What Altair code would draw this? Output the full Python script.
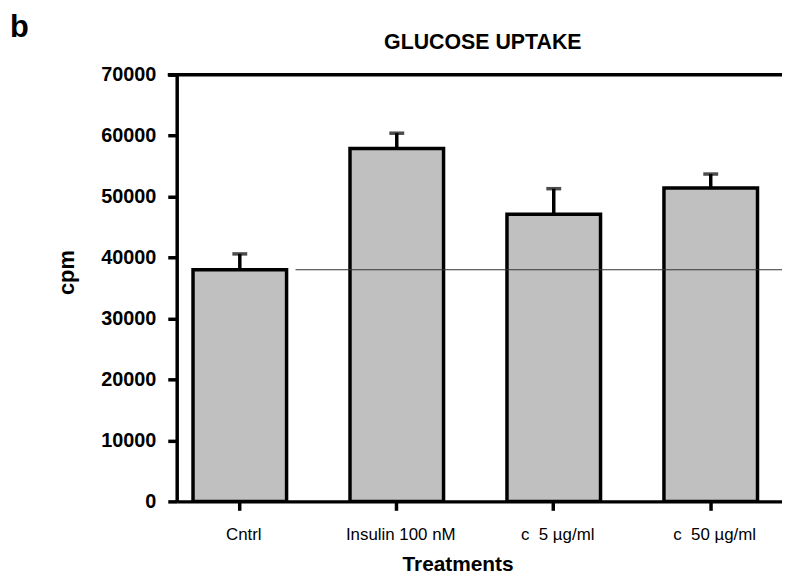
import altair as alt
import pandas as pd

treatments = ["Cntrl", "Insulin 100 nM", "c\u00a0\u00a05 µg/ml", "c\u00a0\u00a050 µg/ml"]
means = [38000, 57900, 47100, 51400]
errors = [2600, 2500, 4200, 2300]
y_ticks = [0, 10000, 20000, 30000, 40000, 50000, 60000, 70000]

df = pd.DataFrame({"treatment": treatments, "mean": means, "err": errors})
df["upper"] = df["mean"] + df["err"]

FONT = "Liberation Sans"
W, H = 610, 430

x_scale = alt.Scale(paddingInner=0.404, paddingOuter=0.13, align=0.4)
x_axis = alt.Axis(
    title="Treatments", labelFont=FONT, labelFontSize=17, labelColor="black",
    labelPadding=16, labelAngle=0, labelOffset=4, tickSize=9, tickWidth=3.5,
    tickColor="black", domainWidth=3.5, domainColor="black",
    titleFont=FONT, titleFontSize=21, titleFontWeight="bold", titleColor="black",
    titleX=283, titleY=70, titleAlign="center", titleBaseline="alphabetic",
)
y_scale = alt.Scale(domain=[0, 70000], nice=False)
y_axis = alt.Axis(
    title="cpm", values=y_ticks, format="d", labelFont=FONT, labelFontSize=20,
    labelFontWeight="bold", labelColor="black", labelPadding=12, tickSize=9,
    tickWidth=3.5, tickColor="black", domainWidth=3.5, domainColor="black",
    grid=False, titleFont=FONT, titleFontSize=22, titleFontWeight="bold",
    titleColor="black", titleAngle=270, titleX=-104, titleY=199,
    titleAlign="center", titleBaseline="alphabetic",
)


def xenc(**kw):
    return alt.X("treatment:N", sort=treatments, scale=x_scale, axis=x_axis, **kw)


base = alt.Chart(df)

bars = base.mark_bar(fill="#c0c0c0", stroke="black", strokeWidth=3.5).encode(
    x=xenc(), y=alt.Y("mean:Q", scale=y_scale, axis=y_axis)
)
err_rule = base.mark_rule(color="black", strokeWidth=3.5).encode(
    x=xenc(), y=alt.Y("mean:Q", scale=y_scale, axis=y_axis), y2="upper:Q"
)
caps = base.mark_tick(color="black", thickness=3.5, size=15, orient="horizontal").encode(
    x=xenc(), y=alt.Y("upper:Q", scale=y_scale, axis=y_axis)
)
ref_line = base.transform_filter(alt.datum.treatment == "Cntrl").mark_rule(
    color="#333333", strokeWidth=1.2, xOffset=9
).encode(
    x=xenc(bandPosition=1), x2=alt.value(W),
    y=alt.Y("mean:Q", scale=y_scale, axis=y_axis),
)
top_line = alt.Chart(pd.DataFrame({"v": [70000]})).mark_rule(
    color="black", strokeWidth=3.5
).encode(
    y=alt.Y("v:Q", scale=y_scale, axis=y_axis), x=alt.value(-9), x2=alt.value(W)
)
title_txt = alt.Chart(pd.DataFrame({"t": ["GLUCOSE UPTAKE"]})).mark_text(
    font=FONT, fontSize=21.5, fontWeight="bold", color="black",
    align="center", baseline="alphabetic",
).encode(text="t:N", x=alt.value(308.5), y=alt.value(-26))
panel_txt = alt.Chart(pd.DataFrame({"t": ["b"]})).mark_text(
    font=FONT, fontSize=31, fontWeight="bold", color="black",
    align="left", baseline="alphabetic",
).encode(text="t:N", x=alt.value(-168), y=alt.value(-38))

chart = alt.layer(
    bars, ref_line, err_rule, caps, top_line, title_txt, panel_txt
).properties(
    width=W, height=H,
    autosize=alt.AutoSizeParams(type="none"),
    padding={"left": 170, "top": 65, "right": 0, "bottom": 74},
).configure_view(stroke=None).configure(background="white")

chart.save("out.html", embed_options={"renderer": "svg", "actions": False})
